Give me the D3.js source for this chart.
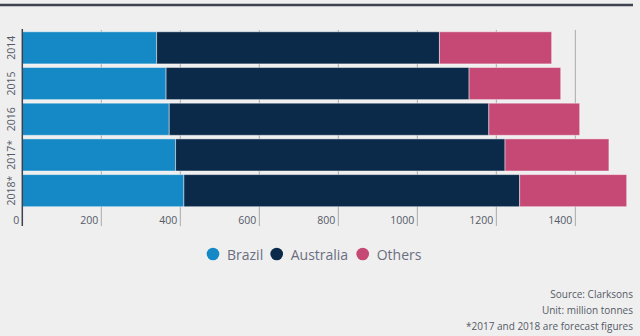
<!DOCTYPE html>
<html><head><meta charset="utf-8">
<script src="https://cdn.jsdelivr.net/npm/d3@7"></script>
<style>
html,body{margin:0;padding:0;background:#efefef;}
svg{display:block;font-family:"Open Sans","Noto Sans",sans-serif;}
</style></head>
<body>
<script>
const years = ["2014","2015","2016","2017*","2018*"];
const brazil = [340, 364, 372, 388, 409];
const australia = [716, 767, 809, 834, 850];
const others = [284, 232, 230, 263, 271];
const seriesNames = ["Brazil","Australia","Others"];
const seriesColors = ["#1589c6","#0b2a4a","#c54875"];
const xTicks = [0,200,400,600,800,1000,1200,1400];
const notes = ["Source: Clarksons","Unit: million tonnes","*2017 and 2018 are forecast figures"];

const W=640,H=336;
const svg=d3.select("body").append("svg").attr("width",W).attr("height",H);
svg.append("rect").attr("width",W).attr("height",H).attr("fill","#efefef");
svg.append("line").attr("x1",0).attr("x2",633).attr("y1",5).attr("y2",5)
  .attr("stroke","#3d4150").attr("stroke-width",2.5);

const x=d3.scaleLinear().domain([0,1529]).range([22.3,626.3]);
const y=d3.scaleBand().domain(years).range([30,208.5]).paddingInner(0.1).paddingOuter(0.05);

const gridTop=30, gridBot=226;
svg.append("g").selectAll("line").data(xTicks.slice(1)).join("line")
  .attr("x1",d=>x(d)).attr("x2",d=>x(d)).attr("y1",gridTop).attr("y2",gridBot)
  .attr("stroke","#a9a9a9").attr("stroke-width",1);

const table=years.map((yr,i)=>({year:yr,Brazil:brazil[i],Australia:australia[i],Others:others[i]}));
const stack=d3.stack().keys(seriesNames)(table);
svg.append("g").selectAll("g").data(stack).join("g")
  .attr("fill",(d,i)=>seriesColors[i])
  .selectAll("rect").data(d=>d).join("rect")
  .attr("x",d=>x(d[0])).attr("width",d=>x(d[1])-x(d[0]))
  .attr("y",d=>y(d.data.year)).attr("height",y.bandwidth())
  .attr("stroke","rgba(255,255,255,0.45)").attr("stroke-width",1);

svg.append("line").attr("x1",x(0)).attr("x2",x(0)).attr("y1",gridTop-1).attr("y2",gridBot)
  .attr("stroke","#3d4150").attr("stroke-width",1.5);

svg.append("g").selectAll("text").data(xTicks).join("text")
  .attr("x",d=>x(d)-3).attr("y",224).attr("text-anchor","end")
  .attr("font-size",10.5).attr("fill","#555a66").text(d=>d);

svg.append("g").selectAll("text").data(years).join("text")
  .attr("transform",d=>`translate(14.5,${y(d)+y.bandwidth()/2}) rotate(-90)`)
  .attr("text-anchor","middle").attr("font-size",10.5).attr("fill","#555a66").text(d=>d);

const legX=[213,276.7,362.7];
const lg=svg.append("g").selectAll("g").data(seriesNames).join("g")
  .attr("transform",(d,i)=>`translate(${legX[i]},254)`);
lg.append("circle").attr("r",6.3).attr("fill",(d,i)=>seriesColors[i]);
lg.append("text").attr("x",14).attr("y",5.5).attr("font-size",14).attr("fill","#6b6e80").text(d=>d);

svg.append("g").selectAll("text").data(notes).join("text")
  .attr("x",633).attr("y",(d,i)=>298+i*16).attr("text-anchor","end")
  .attr("font-size",10).attr("fill","#555a66").text(d=>d);
</script>
</body></html>
